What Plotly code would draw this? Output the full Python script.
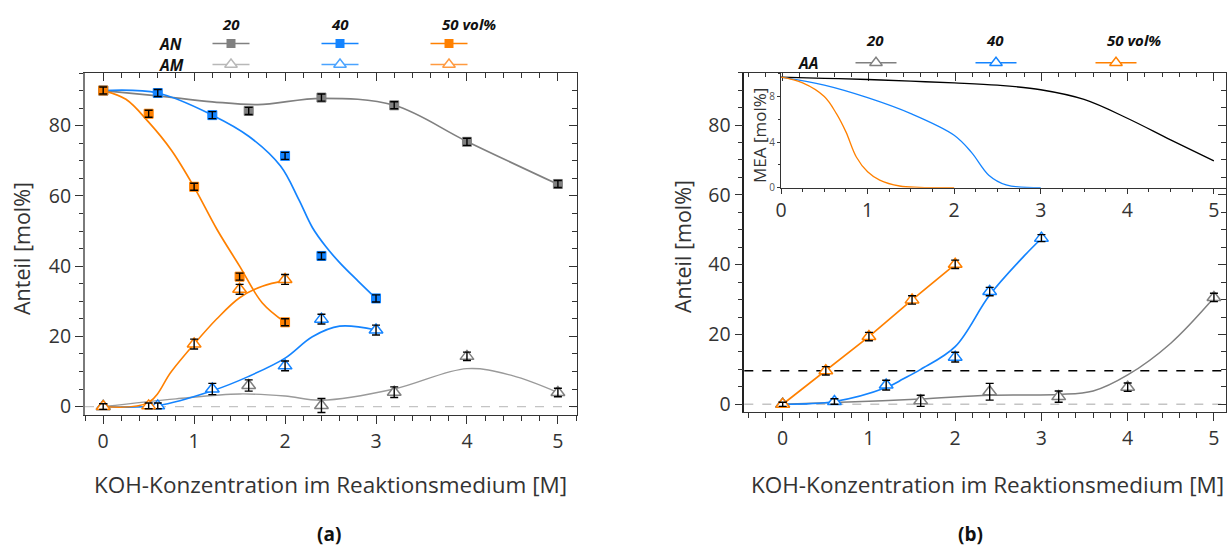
import plotly.graph_objects as go

OX, OY = 0, 0
FW, FH = 1227, 547
FONT = "Open Sans"

# ---------------- data: panel (a) ----------------
AN_X20 = [0, 1.6, 2.4, 3.2, 4.0, 5.0]
AN_Y20 = [90.0, 84.2, 88.0, 85.8, 75.4, 63.4]
AN_E20 = [1.0, 1.0, 1.0, 1.0, 1.0, 1.0]
AM_X20 = [0, 1.6, 2.4, 3.2, 4.0, 5.0]
AM_Y20 = [0.0, 6.0, 0.3, 4.1, 14.3, 4.0]
AM_E20 = [0.8, 1.6, 2.0, 1.5, 1.2, 1.2]

AN_X40 = [0, 0.6, 1.2, 2.0, 2.4, 3.0]
AN_Y40 = [90.0, 89.3, 83.0, 71.4, 42.9, 30.8]
AN_E40 = [1.0, 1.0, 1.0, 1.0, 1.0, 1.0]
AM_X40 = [0, 0.6, 1.2, 2.0, 2.4, 3.0]
AM_Y40 = [0.0, 0.2, 5.0, 11.6, 24.9, 21.8]
AM_E40 = [0.8, 0.8, 1.6, 1.4, 1.4, 1.4]

AN_X50 = [0, 0.5, 1.0, 1.5, 2.0]
AN_Y50 = [90.0, 83.4, 62.6, 37.0, 24.0]
AN_E50 = [1.0, 1.0, 1.0, 1.0, 1.0]
AM_X50 = [0, 0.5, 1.0, 1.5, 2.0]
AM_Y50 = [0.0, 0.2, 17.8, 33.4, 36.2]
AM_E50 = [0.8, 0.8, 1.4, 1.4, 1.4]

# fitted curves (panel a)
FIT_AN_X20 = [0, 0.6, 1.2, 1.7, 2.4, 3.2, 4.0, 5.0]
FIT_AN_Y20 = [90.0, 88.5, 86.8, 86.0, 87.8, 85.8, 75.5, 63.3]
FIT_AN_X40 = [0, 0.6, 1.2, 1.6, 1.95, 2.15, 2.3, 2.45, 2.6, 2.8, 3.0]
FIT_AN_Y40 = [90.0, 89.3, 83.0, 77.0, 68.5, 59.0, 51.0, 45.5, 41.0, 35.8, 30.8]
FIT_AN_X50 = [0, 0.25, 0.5, 0.75, 1.0, 1.25, 1.5, 1.75, 2.0]
FIT_AN_Y50 = [90.0, 87.5, 81.0, 73.0, 62.5, 50.5, 40.0, 29.5, 24.0]
FIT_AM_X20 = [0, 0.8, 1.5, 2.0, 2.4, 3.2, 4.0, 4.5, 5.0]
FIT_AM_Y20 = [0.0, 2.2, 3.6, 3.0, 1.8, 5.0, 10.8, 8.8, 4.0]
FIT_AM_X40 = [0, 0.6, 1.2, 1.6, 2.0, 2.3, 2.6, 3.0]
FIT_AM_Y40 = [0.0, 0.3, 4.5, 8.6, 13.8, 19.9, 22.9, 21.8]
FIT_AM_X50 = [0, 0.5, 0.75, 1.0, 1.25, 1.5, 1.75, 2.0]
FIT_AM_Y50 = [0.0, 1.2, 10.0, 17.8, 25.0, 31.0, 34.3, 35.8]

# ---------------- data: panel (b) ----------------
AA_X20 = [0, 1.6, 2.4, 3.2, 4.0, 5.0]
AA_Y20 = [0.0, 1.0, 3.6, 2.2, 4.9, 30.6]
AA_E20 = [0.6, 1.6, 2.4, 1.6, 1.2, 1.2]
AA_X40 = [0, 0.6, 1.2, 2.0, 2.4, 3.0]
AA_Y40 = [0.0, 0.8, 5.5, 13.5, 32.3, 47.6]
AA_E40 = [0.6, 0.8, 1.4, 1.4, 1.2, 1.0]
AA_X50 = [0, 0.5, 1.0, 1.5, 2.0]
AA_Y50 = [0.0, 9.6, 19.4, 29.9, 40.1]
AA_E50 = [0.6, 1.2, 1.2, 1.2, 1.2]

FIT_AA_X20 = [0, 0.6, 1.6, 2.4, 3.2, 3.6, 4.0, 4.5, 5.0]
FIT_AA_Y20 = [0.0, 0.5, 1.5, 2.6, 2.8, 3.8, 8.4, 17.5, 30.5]
FIT_AA_X40 = [0, 0.6, 1.2, 1.4, 1.6, 2.0, 2.4, 2.8, 3.0]
FIT_AA_Y40 = [0.0, 0.8, 4.8, 7.3, 10.0, 16.5, 31.3, 42.5, 47.5]
FIT_AA_X50 = [0, 0.5, 1.0, 1.5, 2.0]
FIT_AA_Y50 = [0.0, 9.6, 19.4, 29.9, 40.1]

MEA_LIMIT = 9.6

# inset: MEA [mol%]
MEA_X20 = [0, 0.5, 1.0, 1.5, 2.0, 2.5, 3.0, 3.5, 4.0, 4.5, 5.0]
MEA_Y20 = [9.7, 9.6, 9.5, 9.35, 9.2, 9.0, 8.6, 7.75, 6.1, 4.2, 2.35]
MEA_X40 = [0, 0.5, 1.0, 1.5, 2.0, 2.2, 2.4, 2.6, 3.0]
MEA_Y40 = [9.7, 9.0, 7.9, 6.5, 4.6, 3.1, 1.1, 0.25, 0.0]
MEA_X50 = [0, 0.25, 0.5, 0.64, 0.75, 0.87, 1.0, 1.14, 1.37, 1.6, 2.0]
MEA_Y50 = [9.7, 9.2, 8.0, 6.5, 4.9, 2.7, 1.4, 0.67, 0.15, 0.03, 0.0]

# ---------------- styles ----------------
GRAY = "#808080"
GRAY_L = "#9a9a9a"
BLUE = "#1484ff"
ORANGE = "#ff8000"
AX = "#333333"


def px(x):
    return (x - OX) / FW


def py(y):
    return 1 - (y - OY) / FH


fig = go.Figure()


def curve(xs, ys, color, xa, ya, width=1.7, shape="spline"):
    fig.add_trace(go.Scatter(x=xs, y=ys, mode="lines", xaxis=xa, yaxis=ya,
                             line=dict(color=color, width=width, shape=shape, smoothing=1.0),
                             showlegend=False, hoverinfo="skip"))


def points(xs, ys, err, color, kind, xa, ya):
    if kind == "sq":
        mk = dict(symbol="square", size=9, color=color, line=dict(color=color, width=1))
    else:
        mk = dict(symbol="triangle-up", size=12, color="white", line=dict(color=color, width=1.5))
    fig.add_trace(go.Scatter(x=xs, y=ys, mode="markers", xaxis=xa, yaxis=ya, marker=mk,
                             showlegend=False, hoverinfo="skip"))
    fig.add_trace(go.Scatter(x=xs, y=ys, mode="markers", xaxis=xa, yaxis=ya,
                             marker=dict(size=1, opacity=0),
                             error_y=dict(type="data", array=err, color="black", thickness=1.4, width=4),
                             showlegend=False, hoverinfo="skip"))


# panel (a)
curve(FIT_AN_X20, FIT_AN_Y20, GRAY, "x", "y")
curve(FIT_AN_X40, FIT_AN_Y40, BLUE, "x", "y")
curve(FIT_AN_X50, FIT_AN_Y50, ORANGE, "x", "y")
curve(FIT_AM_X20, FIT_AM_Y20, GRAY_L, "x", "y", 1.4)
curve(FIT_AM_X40, FIT_AM_Y40, BLUE, "x", "y", 1.6)
curve(FIT_AM_X50, FIT_AM_Y50, ORANGE, "x", "y", 1.6)
points(AN_X20, AN_Y20, AN_E20, GRAY, "sq", "x", "y")
points(AN_X40, AN_Y40, AN_E40, BLUE, "sq", "x", "y")
points(AN_X50, AN_Y50, AN_E50, ORANGE, "sq", "x", "y")
points(AM_X20, AM_Y20, AM_E20, GRAY, "tri", "x", "y")
points(AM_X40, AM_Y40, AM_E40, BLUE, "tri", "x", "y")
points(AM_X50, AM_Y50, AM_E50, ORANGE, "tri", "x", "y")

# panel (b)
curve(FIT_AA_X20, FIT_AA_Y20, GRAY, "x3", "y3", 1.5)
curve(FIT_AA_X40, FIT_AA_Y40, BLUE, "x3", "y3", 1.7)
curve(FIT_AA_X50, FIT_AA_Y50, ORANGE, "x3", "y3", 1.7, "linear")
points(AA_X20, AA_Y20, AA_E20, GRAY, "tri", "x3", "y3")
points(AA_X40, AA_Y40, AA_E40, BLUE, "tri", "x3", "y3")
points(AA_X50, AA_Y50, AA_E50, ORANGE, "tri", "x3", "y3")

# inset
curve(MEA_X20, MEA_Y20, "black", "x5", "y5", 1.3)
curve(MEA_X40, MEA_Y40, BLUE, "x5", "y5", 1.3)
curve(MEA_X50, MEA_Y50, ORANGE, "x5", "y5", 1.3)

# dummy traces so mirror axes are drawn
fig.add_trace(go.Scatter(x=[None], y=[None], xaxis="x2", yaxis="y2", showlegend=False))
fig.add_trace(go.Scatter(x=[None], y=[None], xaxis="x4", yaxis="y4", showlegend=False))

# ---------------- legends (screen-pixel layout on an overlay axis) ----------------
LEG_A = {"rows": [("AN", 43.5, "sq"), ("AM", 64.5, "tri")],
         "cols": [(231, GRAY, "#b8b8b8"), (340, BLUE, "#4aa3ff"), (449, ORANGE, "#ff9a40")]}
for (lab, yy, kind) in LEG_A["rows"]:
    for (cx, c_an, c_am) in LEG_A["cols"]:
        col = c_an if kind == "sq" else c_am
        fig.add_trace(go.Scatter(x=[cx - 18.5, cx + 18.5], y=[yy, yy], mode="lines", xaxis="x6", yaxis="y6",
                                 line=dict(color=col, width=1.6), showlegend=False, hoverinfo="skip"))
        if kind == "sq":
            mk = dict(symbol="square", size=9, color=col, line=dict(width=0))
        else:
            mk = dict(symbol="triangle-up", size=11, color="white", line=dict(color=col, width=1.4))
        fig.add_trace(go.Scatter(x=[cx], y=[yy], mode="markers", xaxis="x6", yaxis="y6", marker=mk,
                                 showlegend=False, hoverinfo="skip"))
LEG_B = [(876, GRAY), (996, BLUE), (1116, ORANGE)]
for (cx, col) in LEG_B:
    fig.add_trace(go.Scatter(x=[cx - 20.5, cx + 20.5], y=[62.7, 62.7], mode="lines", xaxis="x6", yaxis="y6",
                             line=dict(color=col, width=1.6), showlegend=False, hoverinfo="skip"))
    fig.add_trace(go.Scatter(x=[cx], y=[62.7], mode="markers", xaxis="x6", yaxis="y6",
                             marker=dict(symbol="triangle-up", size=11, color="white", line=dict(color=col, width=1.4)),
                             showlegend=False, hoverinfo="skip"))

# ---------------- axes ----------------
tickfont = dict(family=FONT, size=19.5, color=AX)


def xax(domain, rng, anchor, top=False, overlay=None, **kw):
    d = dict(domain=domain, range=rng, anchor=anchor, showgrid=False, zeroline=False, automargin=False,
             tick0=0, dtick=1, showline=True, linecolor=AX, linewidth=1.2,
             ticks="inside" if top else "outside", ticklen=8, tickwidth=1.2, tickcolor=AX,
             minor=dict(dtick=0.2, ticklen=4.5, tickwidth=1, tickcolor=AX, ticks="inside" if top else "outside"),
             showticklabels=not top, tickfont=tickfont)
    if top:
        d.update(side="top", overlaying=overlay)
    d.update(kw)
    return d


def yax(domain, rng, anchor, right=False, overlay=None, **kw):
    d = dict(domain=domain, range=rng, anchor=anchor, showgrid=False, zeroline=False, automargin=False,
             tick0=0, dtick=20, showline=True, linecolor=AX, linewidth=1.2,
             ticks="inside" if right else "outside", ticklen=8, tickwidth=1.2, tickcolor=AX,
             minor=dict(dtick=5, ticklen=4.5, tickwidth=1, tickcolor=AX, ticks="inside" if right else "outside"),
             showticklabels=not right, tickfont=tickfont)
    if right:
        d.update(side="right", overlaying=overlay)
    d.update(kw)
    return d


XA_DOM = [px(85), px(577)]
YA_DOM = [py(415), py(73)]
XB_DOM = [px(744.3), min(1.0, px(1226.0))]
YB_DOM = [py(412.3), py(72.7)]
XA_RNG = [-0.2, 5.21]
YA_RNG = [-2.4, 95]
XB_RNG = [-0.445, 5.14]
YB_RNG = [-2.3, 95]

fig.update_layout(
    width=FW, height=FH, margin=dict(l=0, r=0, t=0, b=0, autoexpand=False),
    paper_bgcolor="white", plot_bgcolor="rgba(0,0,0,0)",
    showlegend=False,
    xaxis=xax(XA_DOM, XA_RNG, "y"),
    xaxis2=xax(XA_DOM, XA_RNG, "y", top=True, overlay="x"),
    yaxis=yax(YA_DOM, YA_RNG, "x", linecolor="#7a7a7a", linewidth=2),
    yaxis2=yax(YA_DOM, YA_RNG, "x", right=True, overlay="y"),
    xaxis3=xax(XB_DOM, XB_RNG, "y3"),
    xaxis4=xax(XB_DOM, XB_RNG, "y3", top=True, overlay="x3"),
    yaxis3=yax(YB_DOM, YB_RNG, "x3", linecolor="#222", linewidth=1.5),
    yaxis4=yax(YB_DOM, YB_RNG, "x3", right=True, overlay="y3"),
    xaxis5=dict(domain=[px(781), min(1.0, px(1226.0))], range=[0, 5.14], anchor="y5", showgrid=False,
                zeroline=False, automargin=False,
                tick0=0, dtick=1, showline=True, linecolor=AX, linewidth=1.2, ticks="outside", ticklen=5,
                tickwidth=1, tickcolor=AX,
                minor=dict(dtick=0.25, ticklen=3, tickwidth=1, tickcolor=AX, ticks="outside"),
                tickfont=dict(family=FONT, size=19.5, color=AX)),
    yaxis5=dict(domain=[py(187.7), py(73)], range=[0, 10.07], anchor="x5", showgrid=False, zeroline=False,
                automargin=False,
                tick0=0, dtick=4, showline=True, linecolor=AX, linewidth=1.2, ticks="outside", ticklen=3,
                tickwidth=1, tickcolor=AX, minor=dict(dtick=2, ticklen=2, ticks="outside", tickcolor=AX),
                tickfont=dict(family=FONT, size=10, color="#555")),
    xaxis6=dict(domain=[0, 1], range=[OX, OX + FW], anchor="y6", visible=False, fixedrange=True,
                automargin=False),
    yaxis6=dict(domain=[0, 1], range=[OY + FH, OY], anchor="x6", visible=False, fixedrange=True,
                automargin=False),
)

# reference lines
fig.add_shape(type="line", xref="x domain", yref="y", x0=0, x1=1, y0=0, y1=0, layer="below",
              line=dict(color="#c4c4c4", width=1.3, dash="dash"))
fig.add_shape(type="line", xref="x3 domain", yref="y3", x0=0, x1=1, y0=0, y1=0, layer="below",
              line=dict(color="#c4c4c4", width=1.3, dash="dash"))
fig.add_shape(type="line", xref="x3 domain", yref="y3", x0=0, x1=1, y0=MEA_LIMIT, y1=MEA_LIMIT, layer="below",
              line=dict(color="black", width=1.4, dash="dash"))


# ---------------- text ----------------
def txt(x, y, s, size=22, bold=False, italic=False, angle=0, xanchor="center", color=AX):
    if bold:
        s = "<b>" + s + "</b>"
    if italic:
        s = "<i>" + s + "</i>"
    fig.add_annotation(x=px(x), y=py(y), xref="paper", yref="paper", text=s, showarrow=False,
                       textangle=angle, xanchor=xanchor, yanchor="middle",
                       font=dict(family=FONT, size=size, color=color))


XTITLE = "KOH-Konzentration im Reaktionsmedium [M]"
YTITLE = "Anteil [mol%]"
txt(330, 484, XTITLE, 22.5)
txt(987, 484, XTITLE, 22.5)
txt(22, 249, YTITLE, 21.5, angle=-90)
txt(682, 247, YTITLE, 21.5, angle=-90)
txt(759, 136, "MEA [mol%]", 17, angle=-90)
txt(329, 534, "(a)", 19, bold=True, color="#111")
txt(970, 534, "(b)", 19, bold=True, color="#111")

# legend titles
txt(231, 24, "20", 15, bold=True, italic=True, color="#111")
txt(340, 24, "40", 15, bold=True, italic=True, color="#111")
txt(440, 24, "50 vol%", 15, bold=True, italic=True, xanchor="left", color="#111")
txt(157, 44, "AN", 15.5, bold=True, italic=True, xanchor="left", color="#111")
txt(157, 65, "AM", 15.5, bold=True, italic=True, xanchor="left", color="#111")
txt(875, 40, "20", 15, bold=True, italic=True, color="#111")
txt(995, 40, "40", 15, bold=True, italic=True, color="#111")
txt(1105, 40, "50 vol%", 15, bold=True, italic=True, xanchor="left", color="#111")
txt(796, 63, "AA", 15.5, bold=True, italic=True, xanchor="left", color="#111")

fig.write_html("out.html", config={"displayModeBar": False},
               post_script="document.body.style.margin='0';document.body.style.overflow='hidden';")
